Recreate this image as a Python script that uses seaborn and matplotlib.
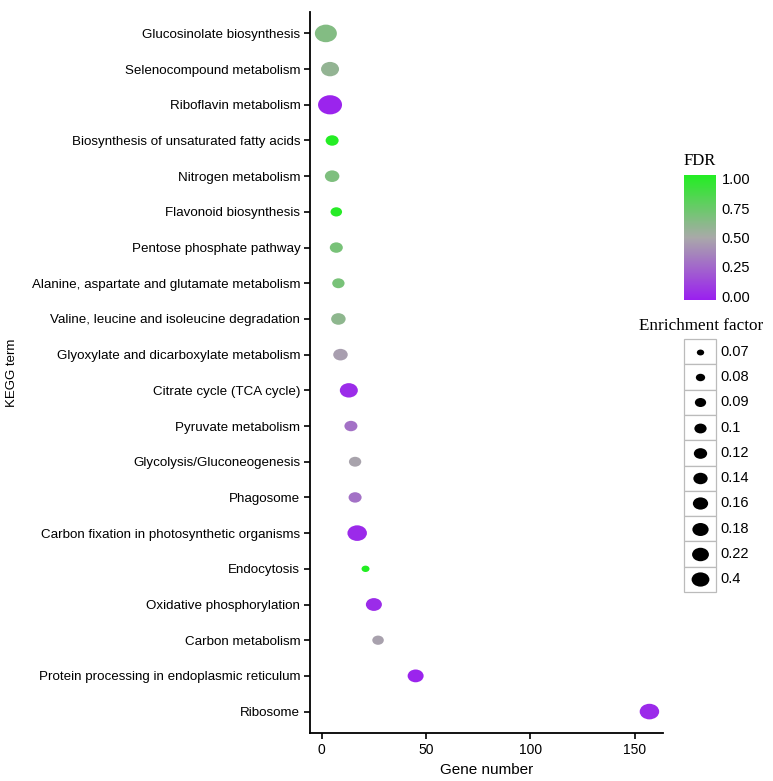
import matplotlib
matplotlib.use("Agg")
import matplotlib.pyplot as plt
import seaborn as sns
import numpy as np
import pandas as pd
from matplotlib.colors import LinearSegmentedColormap, Normalize
from matplotlib.cm import ScalarMappable
from matplotlib.path import Path
from matplotlib.transforms import Affine2D
from matplotlib.patches import Rectangle

terms = [
    "Glucosinolate biosynthesis",
    "Selenocompound metabolism",
    "Riboflavin metabolism",
    "Biosynthesis of unsaturated fatty acids",
    "Nitrogen metabolism",
    "Flavonoid biosynthesis",
    "Pentose phosphate pathway",
    "Alanine, aspartate and glutamate metabolism",
    "Valine, leucine and isoleucine degradation",
    "Glyoxylate and dicarboxylate metabolism",
    "Citrate cycle (TCA cycle)",
    "Pyruvate metabolism",
    "Glycolysis/Gluconeogenesis",
    "Phagosome",
    "Carbon fixation in photosynthetic organisms",
    "Endocytosis",
    "Oxidative phosphorylation",
    "Carbon metabolism",
    "Protein processing in endoplasmic reticulum",
    "Ribosome",
]
gene_number = [2, 4, 4, 5, 5, 7, 7, 8, 8, 9, 13, 14, 16, 16, 17, 21, 25, 27, 45, 157]
fdr = [0.64, 0.58, 0.02, 0.99, 0.66, 0.98, 0.68, 0.68, 0.60, 0.46,
       0.05, 0.30, 0.48, 0.30, 0.04, 1.00, 0.05, 0.47, 0.02, 0.04]
enrichment = ["0.22", "0.16", "0.4", "0.1", "0.12", "0.08", "0.1", "0.09", "0.12", "0.12",
              "0.16", "0.1", "0.09", "0.1", "0.18", "0.07", "0.14", "0.08", "0.14", "0.18"]

ef_levels = ["0.07", "0.08", "0.09", "0.1", "0.12", "0.14", "0.16", "0.18", "0.22", "0.4"]
plot_sizes = [33, 69, 79, 88, 109, 133, 168, 197, 251, 298]
key_sizes = [28, 45, 66, 78, 92, 106, 121, 137, 147, 164]

df = pd.DataFrame({"term": terms, "genes": gene_number, "FDR": fdr, "EF": enrichment})

cmap = LinearSegmentedColormap.from_list("fdr", ["#9A1FF0", "#A9A9A9", "#22EE22"])
norm = Normalize(0, 1)

# slightly wide ellipse, like the stretched original
ell = Path.unit_circle().transformed(Affine2D().scale(1, 0.8))

sns.set_style("ticks")
plt.rcParams["font.family"] = ["Liberation Sans", "DejaVu Sans"]
plt.rcParams["text.color"] = "black"
plt.rcParams["xtick.color"] = "black"
plt.rcParams["ytick.color"] = "black"
plt.rcParams["axes.labelcolor"] = "black"

fig = plt.figure(figsize=(7.73, 7.81), dpi=100)
ax = fig.add_axes([310 / 773, 1 - 733 / 781, 353 / 773, 721 / 781])

sns.scatterplot(data=df, x="genes", y="term", hue="FDR", hue_norm=norm, palette=cmap,
                size="EF", sizes=dict(zip(ef_levels, plot_sizes)), size_order=ef_levels,
                marker=ell, linewidth=0, legend=False, ax=ax)

ax.set_xlim(-5.6, 163.5)
ax.set_ylim(len(terms) - 0.4, -0.6)
ax.set_xticks([0, 50, 100, 150])
ax.set_xlabel("Gene number", fontsize=11, labelpad=4)
ax.set_ylabel("KEGG term", fontsize=9.5)
ax.yaxis.set_label_coords((18 - 310) / 353, 0.5)
ax.tick_params(axis="y", labelsize=9.6, length=4, width=1.2, pad=3)
ax.tick_params(axis="x", labelsize=10, length=4, width=1.2)
for s in ["left", "bottom"]:
    ax.spines[s].set_linewidth(1.3)
    ax.spines[s].set_color("black")
sns.despine(ax=ax)

# FDR colour bar
cax = fig.add_axes([684 / 773, 1 - 300 / 781, 32 / 773, 125 / 781])
cb = fig.colorbar(ScalarMappable(norm=Normalize(-0.03, 1.03), cmap=cmap), cax=cax)
cb.set_ticks([0, 0.25, 0.5, 0.75, 1.0])
cb.set_ticklabels(["0.00", "0.25", "0.50", "0.75", "1.00"])
cb.outline.set_visible(False)
cax.tick_params(direction="in", color="white", length=6, width=0.8, left=True, right=True,
                labelsize=10.5, pad=4)
fig.text(700 / 773, 1 - 161 / 781, "FDR", ha="center", va="center", fontsize=12,
         family=["Liberation Serif"])

# Enrichment factor key
fig.text(701 / 773, 1 - 326 / 781, "Enrichment factor", ha="center", va="center",
         fontsize=12.3, family=["Liberation Serif"])
lax = fig.add_axes([684 / 773, 1 - 592 / 781, 32 / 773, 253 / 781])
n = len(ef_levels)
lax.set_xlim(0, 1)
lax.set_ylim(n, 0)
lax.axis("off")
for i, (lev, sz) in enumerate(zip(ef_levels, key_sizes)):
    lax.add_patch(Rectangle((0, i), 1, 1, facecolor="white", edgecolor="#BBBBBB", lw=0.9,
                            clip_on=False))
    lax.scatter([0.5], [i + 0.5], s=sz, color="black", marker=ell, linewidths=0, clip_on=False)
    lax.text(1.15, i + 0.5, lev, ha="left", va="center", fontsize=10.5)

fig.savefig("out.png", dpi=100)
